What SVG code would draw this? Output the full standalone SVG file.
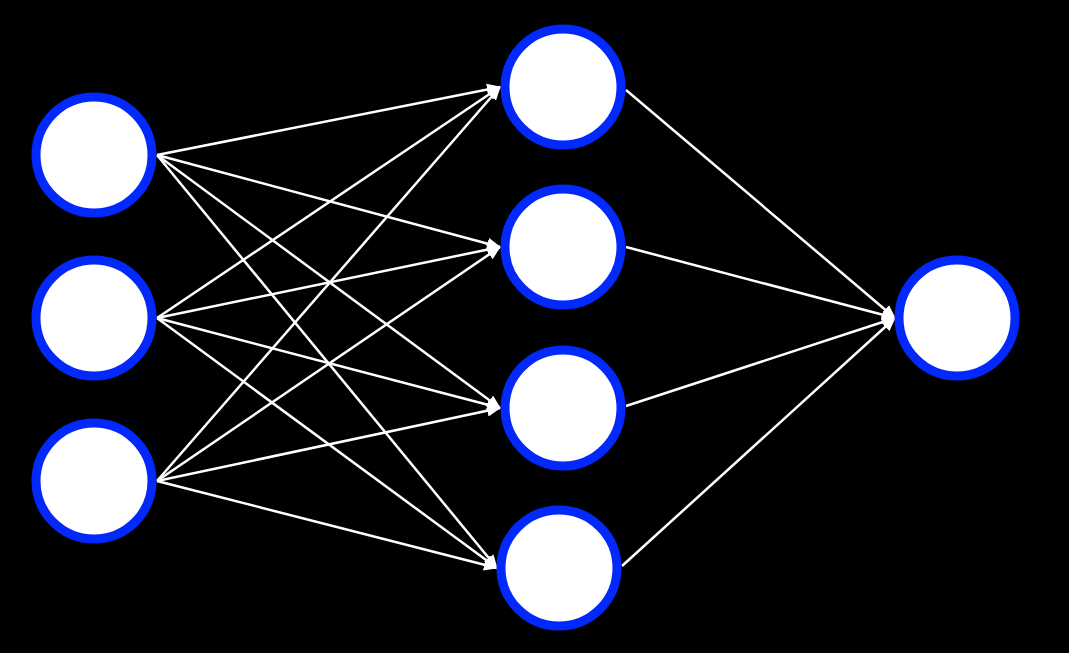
<svg xmlns="http://www.w3.org/2000/svg" width="1069" height="653" viewBox="0 0 1069 653">
<style>
.node{fill:#ffffff;stroke:#0328fb;stroke-width:9}
.edge{stroke:#ffffff;stroke-width:2.5;fill:none;marker-end:url(#ah)}
</style>
<defs>
<marker id="ah" markerUnits="userSpaceOnUse" markerWidth="14" markerHeight="12" viewBox="0 0 14 12" refX="13" refY="6" orient="auto">
<path d="M0,0 L14,6 L0,12 Z" fill="#ffffff"/>
</marker>
</defs>
<rect width="1069" height="653" fill="#000000"/>
<g id="connectors">
<line class="edge" x1="157" y1="155" x2="500" y2="87"/>
<line class="edge" x1="157" y1="155" x2="500" y2="247"/>
<line class="edge" x1="157" y1="155" x2="500" y2="408"/>
<line class="edge" x1="157" y1="155" x2="497" y2="568"/>
<line class="edge" x1="157" y1="318" x2="500" y2="87"/>
<line class="edge" x1="157" y1="318" x2="500" y2="247"/>
<line class="edge" x1="157" y1="318" x2="500" y2="408"/>
<line class="edge" x1="157" y1="318" x2="497" y2="568"/>
<line class="edge" x1="157" y1="481" x2="500" y2="87"/>
<line class="edge" x1="157" y1="481" x2="500" y2="247"/>
<line class="edge" x1="157" y1="481" x2="500" y2="408"/>
<line class="edge" x1="157" y1="481" x2="497" y2="568"/>
<line class="edge" x1="626" y1="90" x2="895" y2="318"/>
<line class="edge" x1="626" y1="247" x2="895" y2="318"/>
<line class="edge" x1="626" y1="406" x2="895" y2="318"/>
<line class="edge" x1="622" y1="566" x2="895" y2="318"/>
</g>
<g id="in1"><circle class="node" cx="94" cy="155" r="58"/></g>
<g id="in2"><circle class="node" cx="94" cy="318" r="58"/></g>
<g id="in3"><circle class="node" cx="94" cy="481" r="58"/></g>
<g id="h1"><circle class="node" cx="563" cy="87" r="58"/></g>
<g id="h2"><circle class="node" cx="563" cy="247" r="58"/></g>
<g id="h3"><circle class="node" cx="563" cy="408" r="58"/></g>
<g id="h4"><circle class="node" cx="559" cy="568" r="58"/></g>
<g id="out"><circle class="node" cx="957" cy="318" r="58"/></g>
</svg>
